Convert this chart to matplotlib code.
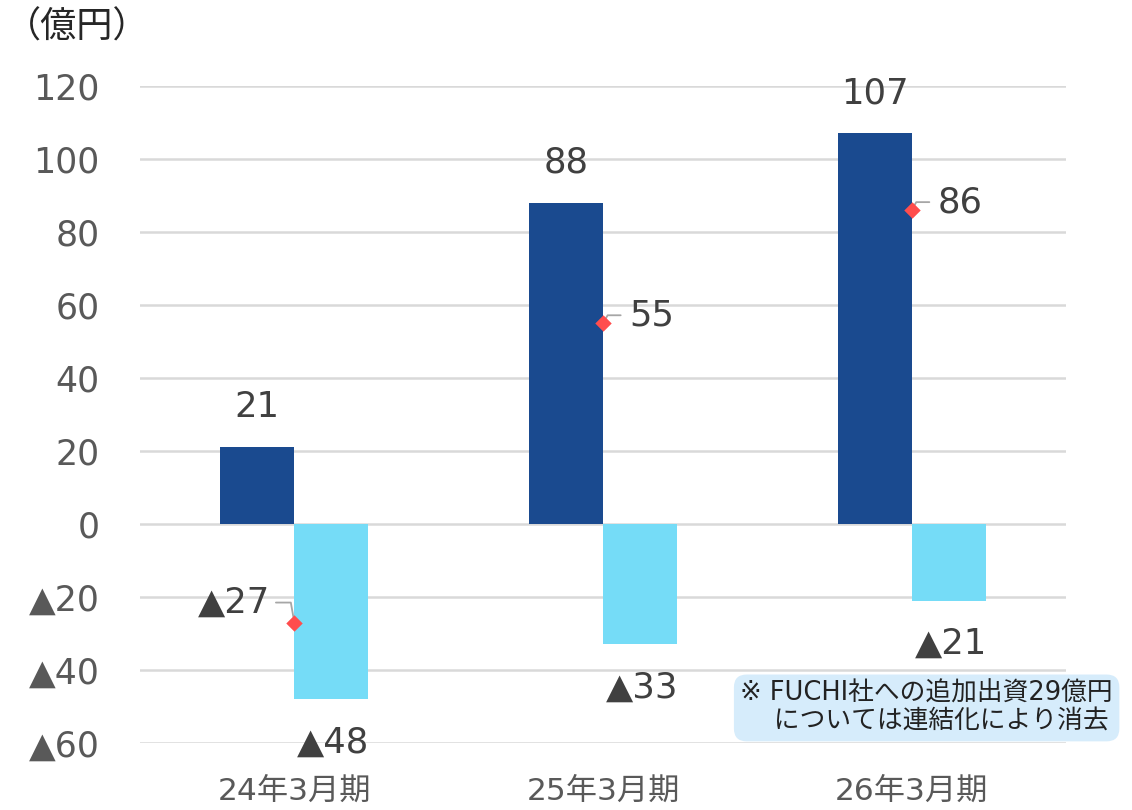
import numpy as np
import matplotlib
matplotlib.use("Agg")
import matplotlib.pyplot as plt

plt.rcParams['font.family'] = ['DejaVu Sans', 'Noto Sans CJK JP']

# データ
periods = ['24年3月期', '25年3月期', '26年3月期']
pos_vals = [21, 88, 107]
neg_vals = [-48, -33, -21]
net_vals = [-27, 55, 86]
yticks = [-60, -40, -20, 0, 20, 40, 60, 80, 100, 120]


def fmt(v):
    return ('▲%d' % -v) if v < 0 else '%d' % v


fig = plt.figure(figsize=(11.32, 8.10), dpi=100)
ax = fig.add_axes([0.1237, 0.0827, 0.818, 0.8111])

x = np.arange(len(periods))
w = 0.24
ax.bar(x - w / 2, pos_vals, width=w, color='#1a4a8f', zorder=2)
ax.bar(x + w / 2, neg_vals, width=w, color='#75dcf7', zorder=2)
ax.scatter(x, net_vals, marker='D', s=70, color='#ff4d4d', zorder=4, linewidths=0)

ax.set_xlim(-0.5, len(periods) - 0.5)
ax.set_ylim(-60, 120)
ax.set_yticks(yticks)
ax.set_yticklabels([fmt(v) for v in yticks])
ax.set_xticks(x)
ax.set_xticklabels(periods)
ax.grid(axis='y', color='#d9d9d9', linewidth=1.8, zorder=0)
ax.set_axisbelow(True)
for s in ax.spines.values():
    s.set_visible(False)
ax.tick_params(axis='y', length=0, labelsize=25, labelcolor='#595959', pad=29)
ax.tick_params(axis='x', length=0, labelsize=22.5, labelcolor='#595959', pad=24)

lbl = dict(fontsize=25.5, color='#404040')
for i in range(len(periods)):
    ax.annotate(fmt(pos_vals[i]), (x[i] - w / 2, pos_vals[i]), xytext=(0, 40),
                textcoords='offset pixels', ha='center', va='center',
                annotation_clip=False, **lbl)
    ax.annotate(fmt(neg_vals[i]), (x[i] + w / 2, neg_vals[i]), xytext=(2, -43),
                textcoords='offset pixels', ha='center', va='center',
                annotation_clip=False, **lbl)
    if net_vals[i] < 0:
        ax.annotate(fmt(net_vals[i]), (x[i], net_vals[i]), xytext=(-24, 20),
                    textcoords='offset pixels', ha='right', va='center',
                    arrowprops=dict(arrowstyle='-', color='#a6a6a6', lw=1.3,
                                    relpos=(1.0, 0.5), shrinkA=2, shrinkB=4,
                                    connectionstyle='angle,angleA=0,angleB=100,rad=0'),
                    **lbl)
    else:
        ax.annotate(fmt(net_vals[i]), (x[i], net_vals[i]), xytext=(26, 8),
                    textcoords='offset pixels', ha='left', va='center',
                    arrowprops=dict(arrowstyle='-', color='#a6a6a6', lw=1.3,
                                    relpos=(0.0, 0.5), shrinkA=4, shrinkB=4,
                                    connectionstyle='angle,angleA=180,angleB=60,rad=0'),
                    **lbl)

fig.text(0.004, 0.966, '（億円）', fontsize=26, color='#262626', va='center', ha='left')

fig.text(0.654, 0.126, '※ FUCHI社への追加出資29億円\n\u3000 については連結化により消去',
         fontsize=18.5, color='#222222', ha='left', va='center', linespacing=1.1,
         bbox=dict(boxstyle='round,pad=0.25,rounding_size=0.5', facecolor='#d6ecfb',
                   edgecolor='none'))

fig.savefig('out.png', dpi=100)
